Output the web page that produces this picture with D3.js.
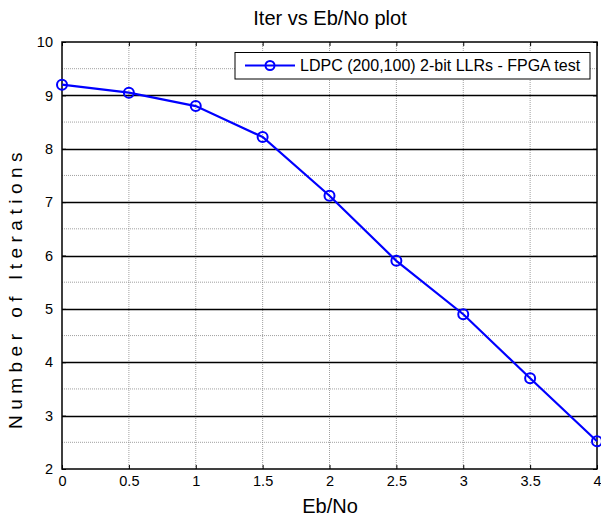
<!DOCTYPE html>
<html><head><meta charset="utf-8">
<script src="https://cdn.jsdelivr.net/npm/d3@7"></script>
<style>body{margin:0;background:#fff}svg{display:block;font-family:"Liberation Sans",Arial,sans-serif}</style>
</head><body><svg id="c" width="601" height="519"></svg>
<script>
const ebno = [0, 0.5, 1, 1.5, 2, 2.5, 3, 3.5, 4];
const iterations = [9.2, 9.05, 8.8, 8.22, 7.12, 5.9, 4.9, 3.7, 2.52];
const xTicks = [0, 0.5, 1, 1.5, 2, 2.5, 3, 3.5, 4];
const xTickLabels = ["0", "0.5", "1", "1.5", "2", "2.5", "3", "3.5", "4"];
const yTicks = [2, 3, 4, 5, 6, 7, 8, 9, 10];
const yMinor = [2.5, 3.5, 4.5, 5.5, 6.5, 7.5, 8.5, 9.5];
const seriesName = "LDPC (200,100) 2-bit LLRs - FPGA test";

const svg = d3.select("#c");
const L = 62, R = 597, T = 42, B = 469;
const x = d3.scaleLinear().domain([0, 4]).range([L, R]);
const y = d3.scaleLinear().domain([2, 10]).range([B, T]);

svg.append("g").selectAll("line").data(xTicks.slice(1, -1)).join("line")
  .attr("x1", d => x(d)).attr("x2", d => x(d)).attr("y1", T).attr("y2", B)
  .attr("stroke", "#888").attr("stroke-width", 0.8).attr("stroke-dasharray", "1,1");
svg.append("g").selectAll("line").data(yMinor).join("line")
  .attr("x1", L).attr("x2", R).attr("y1", d => y(d)).attr("y2", d => y(d))
  .attr("stroke", "#888").attr("stroke-width", 0.8).attr("stroke-dasharray", "1,1");
svg.append("g").selectAll("line").data(yTicks.slice(1, -1)).join("line")
  .attr("x1", L).attr("x2", R).attr("y1", d => Math.round(y(d)) + 0.5).attr("y2", d => Math.round(y(d)) + 0.5)
  .attr("stroke", "#000").attr("stroke-width", 1.3);

const xAxis = d3.axisBottom(x).tickValues(xTicks).tickFormat((d, i) => xTickLabels[i]).tickSizeInner(-4).tickSizeOuter(0).tickPadding(7);
const gx = svg.append("g").attr("transform", `translate(0,${B})`).call(xAxis);
const xTop = d3.axisTop(x).tickValues(xTicks).tickFormat("").tickSizeInner(-4).tickSizeOuter(0);
svg.append("g").attr("transform", `translate(0,${T})`).call(xTop);
const yAxis = d3.axisLeft(y).tickValues(yTicks).tickSizeInner(-4).tickSizeOuter(0).tickPadding(9);
const gy = svg.append("g").attr("transform", `translate(${L},0)`).call(yAxis);
const yRight = d3.axisRight(y).tickValues(yTicks).tickFormat("").tickSizeInner(-4).tickSizeOuter(0);
svg.append("g").attr("transform", `translate(${R},0)`).call(yRight);
svg.selectAll(".domain").remove();
svg.selectAll(".tick line").attr("stroke", "#000");
svg.selectAll(".tick text").attr("font-size", 14.5).attr("fill", "#000").attr("font-family", "Liberation Sans, Arial, sans-serif");
gx.selectAll(".tick text").attr("dy", "0.71em");

svg.append("rect").attr("x", L).attr("y", T).attr("width", R - L).attr("height", B - T)
  .attr("fill", "none").attr("stroke", "#000").attr("stroke-width", 1.5);

const line = d3.line().x((d, i) => x(ebno[i])).y(d => y(d));
svg.append("path").datum(iterations).attr("d", line).attr("fill", "none")
  .attr("stroke", "#0000ff").attr("stroke-width", 2.2);
svg.append("g").selectAll("circle").data(iterations).join("circle")
  .attr("cx", (d, i) => x(ebno[i])).attr("cy", d => y(d)).attr("r", 5)
  .attr("fill", "none").attr("stroke", "#0000ff").attr("stroke-width", 2);

const lg = svg.append("g");
lg.append("rect").attr("x", 235).attr("y", 52.5).attr("width", 355).attr("height", 26.5)
  .attr("fill", "#fff").attr("stroke", "#000").attr("stroke-width", 1);
lg.append("line").attr("x1", 245).attr("x2", 295).attr("y1", 65.5).attr("y2", 65.5)
  .attr("stroke", "#0000ff").attr("stroke-width", 2.2);
lg.append("circle").attr("cx", 270).attr("cy", 65.5).attr("r", 4.5).attr("fill", "none")
  .attr("stroke", "#0000ff").attr("stroke-width", 2);
lg.append("text").attr("x", 300).attr("y", 65.5).attr("dy", "0.35em").attr("font-size", 16)
  .text(seriesName);

svg.append("text").attr("x", 330).attr("y", 25).attr("text-anchor", "middle").attr("font-size", 20).text("Iter vs Eb/No plot");
svg.append("text").attr("x", 330).attr("y", 513).attr("text-anchor", "middle").attr("font-size", 20).text("Eb/No");
svg.append("text").attr("transform", "translate(22,288) rotate(-90)").attr("text-anchor", "middle")
  .attr("font-size", 19).attr("letter-spacing", 5.5).text("Number of Iterations");
</script></body></html>
